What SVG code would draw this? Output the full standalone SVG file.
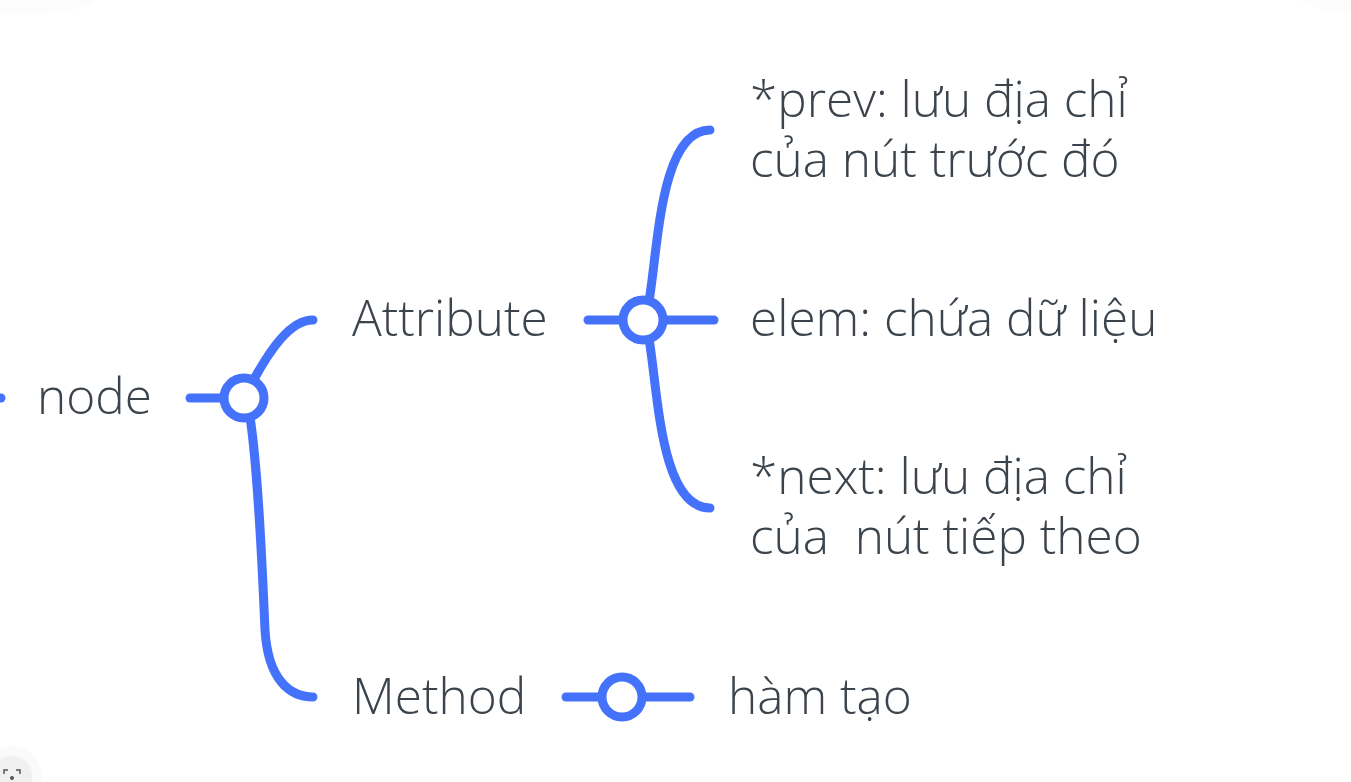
<svg xmlns="http://www.w3.org/2000/svg" width="1351" height="782" viewBox="0 0 1351 782">
<style>
.t{font-family:"Open Sans","Noto Sans",sans-serif;font-size:49.5px;font-weight:300;fill:#3b444c}
.c{fill:none;stroke:#4572fb;stroke-width:9;stroke-linecap:round}
.o{fill:#fff;stroke:#4572fb;stroke-width:9}
</style>
<rect width="1351" height="782" fill="#fff"/>
<g id="chrome">
<path d="M0 0H95Q90 10 40 13H0Z" fill="#fcfcfc"/>
<path d="M1300 0H1351V13Q1320 12 1300 0Z" fill="#fcfcfc"/>
<circle cx="12" cy="776" r="30" fill="#fafafa"/>
<circle cx="12" cy="776" r="20" fill="#f0f0f0"/>
<path d="M4 774v-4h4M16 770h4v4" fill="none" stroke="#555" stroke-width="1.5"/>
<circle cx="12" cy="778" r="2" fill="#555"/>
</g>
<g id="connectors">
<path class="c" d="M-10 398H1"/>
<path class="c" d="M190 398H226"/>
<path class="c" d="M253 381C270 350 290 320 313 320"/>
<path class="c" d="M250 417C258 470 262 560 265 630C268 680 290 697 313 697"/>
<path class="c" d="M588 320H714"/>
<path class="c" d="M649 301C658 250 660 130 710 130"/>
<path class="c" d="M649 339C658 390 660 508 710 508"/>
<path class="c" d="M566 697H690"/>
</g>
<g id="n-node"><circle class="o" cx="244" cy="398" r="20"/><text class="t" x="37" y="414">node</text></g>
<g id="n-attribute"><circle class="o" cx="643" cy="320" r="20"/><text class="t" x="352" y="336">Attribute</text></g>
<g id="n-method"><circle class="o" cx="622" cy="697" r="20"/><text class="t" x="352" y="714">Method</text></g>
<g id="n-prev"><text class="t" x="750" y="117">*prev: lưu địa chỉ</text><text class="t" x="750" y="177">của nút trước đó</text></g>
<g id="n-elem"><text class="t" x="750" y="336">elem: chứa dữ liệu</text></g>
<g id="n-next"><text class="t" x="750" y="494">*next: lưu địa chỉ</text><text class="t" x="750" y="554" xml:space="preserve">của  nút tiếp theo</text></g>
<g id="n-hamtao"><text class="t" x="728" y="714">hàm tạo</text></g>
</svg>
